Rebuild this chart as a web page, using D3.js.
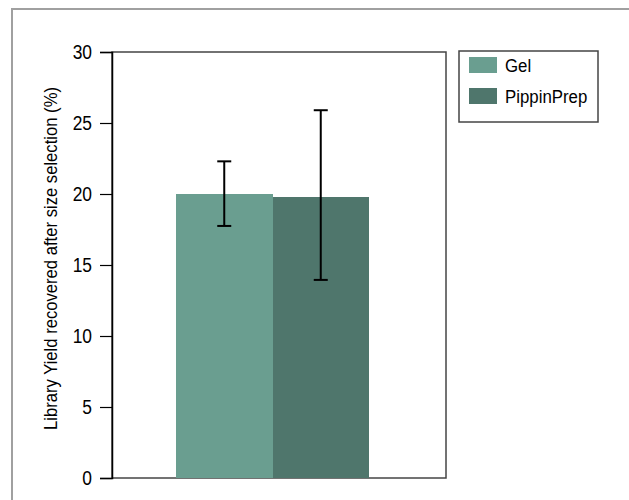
<!DOCTYPE html>
<html>
<head>
<meta charset="utf-8">
<script src="https://cdn.jsdelivr.net/npm/d3@7"></script>
<style>
  body { margin: 0; background: #fff; }
  text { font-family: "Liberation Sans", Arial, sans-serif; }
</style>
</head>
<body>
<svg id="chart" width="629" height="500"></svg>
<script>
// data
var series = ["Gel", "PippinPrep"];
var means = [20.0, 19.8];
var errLow = [17.75, 13.95];
var errHigh = [22.3, 25.9];
var colors = ["#6a9e90", "#4f766c"];
var yTicks = [0, 5, 10, 15, 20, 25, 30];
var yLabel = "Library Yield recovered after size selection (%)";

var svg = d3.select("#chart");

// outer frame (top and left only, like the clipped figure)
svg.append("path")
  .attr("d", "M12,500 V9 H629")
  .attr("fill", "none")
  .attr("stroke", "#a0a0a0")
  .attr("stroke-width", 2);

var plotLeft = 112, plotTop = 52, w = 334, h = 426;
var squeeze = 0.87; // the figure uses a condensed face

var g = svg.append("g").attr("transform", "translate(" + plotLeft + "," + plotTop + ")");

var y = d3.scaleLinear().domain([0, 30]).range([h, 0]);
var x = d3.scaleBand().domain(series).range([64, 257]).padding(0);

// plot box
g.append("rect")
  .attr("x", 0).attr("y", 0)
  .attr("width", w).attr("height", h)
  .attr("fill", "none")
  .attr("stroke", "#444")
  .attr("stroke-width", 1.5);

// bars
g.selectAll(".bar")
  .data(series)
  .join("rect")
  .attr("class", "bar")
  .attr("x", d => x(d))
  .attr("width", x.bandwidth())
  .attr("y", (d, i) => y(means[i]))
  .attr("height", (d, i) => h - y(means[i]))
  .attr("fill", (d, i) => colors[i])
  .attr("shape-rendering", "crispEdges");

// error bars
var cap = 7;
var eb = g.selectAll(".err")
  .data(series)
  .join("g")
  .attr("class", "err")
  .attr("stroke", "#000")
  .attr("stroke-width", 2);

eb.append("line")
  .attr("x1", d => x(d) + x.bandwidth() / 2)
  .attr("x2", d => x(d) + x.bandwidth() / 2)
  .attr("y1", (d, i) => y(errLow[i]))
  .attr("y2", (d, i) => y(errHigh[i]));
eb.append("line")
  .attr("x1", d => x(d) + x.bandwidth() / 2 - cap)
  .attr("x2", d => x(d) + x.bandwidth() / 2 + cap)
  .attr("y1", (d, i) => y(errHigh[i]))
  .attr("y2", (d, i) => y(errHigh[i]));
eb.append("line")
  .attr("x1", d => x(d) + x.bandwidth() / 2 - cap)
  .attr("x2", d => x(d) + x.bandwidth() / 2 + cap)
  .attr("y1", (d, i) => y(errLow[i]))
  .attr("y2", (d, i) => y(errLow[i]));

// y axis
var yAxis = g.append("g")
  .call(d3.axisLeft(y).tickValues(yTicks).tickSize(12).tickPadding(8));
yAxis.select(".domain").attr("stroke", "#000").attr("stroke-width", 1.5);
yAxis.selectAll(".tick line").attr("stroke", "#000").attr("stroke-width", 1.2);
yAxis.selectAll(".tick text")
  .attr("font-size", "20px")
  .attr("fill", "#000")
  .attr("x", -20 / squeeze)
  .attr("transform", "scale(" + squeeze + ",1)");

// y label
svg.append("text")
  .attr("transform", "translate(57,258.5) rotate(-90)")
  .attr("text-anchor", "middle")
  .attr("font-size", "17.5px")
  .attr("fill", "#000")
  .attr("textLength", 343)
  .attr("lengthAdjust", "spacingAndGlyphs")
  .text(yLabel);

// legend
var lg = svg.append("g").attr("transform", "translate(459,51)");
lg.append("rect")
  .attr("width", 139).attr("height", 71)
  .attr("fill", "#fff")
  .attr("stroke", "#444")
  .attr("stroke-width", 1.5);
var item = lg.selectAll(".item")
  .data(series)
  .join("g")
  .attr("class", "item")
  .attr("transform", (d, i) => "translate(10," + (6 + i * 31) + ")");
item.append("rect")
  .attr("width", 28).attr("height", 16)
  .attr("fill", (d, i) => colors[i]);
item.append("text")
  .attr("transform", "translate(36,15) scale(0.91,1)")
  .attr("font-size", "18.5px")
  .attr("fill", "#000")
  .text(d => d);
</script>
</body>
</html>
